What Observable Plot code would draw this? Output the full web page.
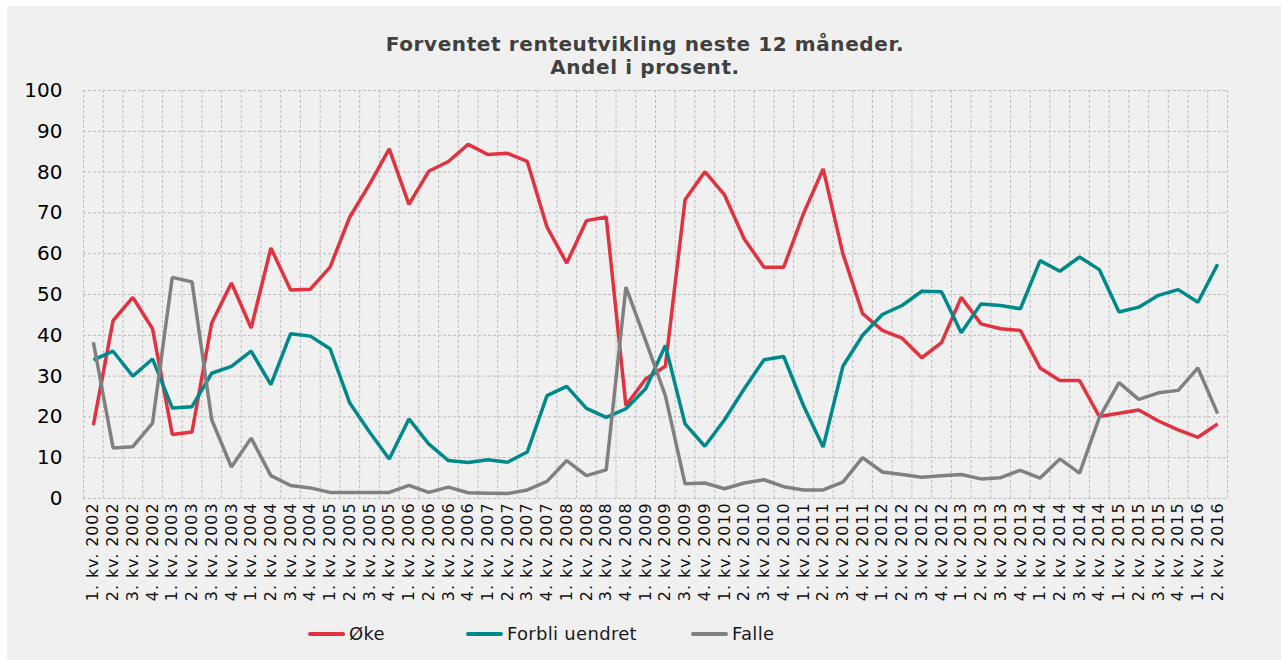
<!DOCTYPE html>
<html>
<head>
<meta charset="utf-8">
<script src="https://cdn.jsdelivr.net/npm/d3@7"></script>
<script src="https://cdn.jsdelivr.net/npm/@observablehq/plot@0.6"></script>
<style>
  html, body { margin: 0; padding: 0; background: #ffffff; }
  #wrap { position: absolute; left: 7px; top: 6px; width: 1274px; height: 654px; background: #f0f0f0; font-family: "DejaVu Sans", Verdana, sans-serif; }
  #title { position: absolute; left: 0; width: 1276px; top: 27px; text-align: center; font-weight: bold; font-size: 20px; letter-spacing: 0.6px; line-height: 23px; color: #404040; }
  #chart { position: absolute; left: 0; top: 0; }
  #chart svg g[aria-label="y-axis tick label"] { font-size: 20px; }
  #chart svg g[aria-label="x-axis tick label"] { font-size: 16px; letter-spacing: 0.9px; }
  .leg { position: absolute; top: 616px; font-size: 18px; letter-spacing: 0.3px; color: #1a1a1a; height: 24px; line-height: 24px; }
  .leg span.sw { display: inline-block; width: 37px; height: 4px; border-radius: 2px; vertical-align: middle; margin-right: 4px; position: relative; top: -1px; }
</style>
</head>
<body>
<div id="wrap">
  <div id="chart"></div>
  <div id="title">Forventet renteutvikling neste 12 måneder.<br>Andel i prosent.</div>
  <div id="legend"></div>
</div>
<script>
const labels = [
  "1. kv. 2002","2. kv. 2002","3. kv. 2002","4. kv. 2002",
  "1. kv. 2003","2. kv. 2003","3. kv. 2003","4. kv. 2003",
  "1. kv. 2004","2. kv. 2004","3. kv. 2004","4. kv. 2004",
  "1. kv. 2005","2. kv. 2005","3. kv. 2005","4. kv. 2005",
  "1. kv. 2006","2. kv. 2006","3. kv. 2006","4. kv. 2006",
  "1. kv. 2007","2. kv. 2007","3. kv. 2007","4. kv. 2007",
  "1. kv. 2008","2. kv. 2008","3. kv. 2008","4. kv. 2008",
  "1. kv. 2009","2. kv. 2009","3. kv. 2009","4. kv. 2009",
  "1. kv. 2010","2. kv. 2010","3. kv. 2010","4. kv. 2010",
  "1. kv. 2011","2. kv. 2011","3. kv. 2011","4. kv. 2011",
  "1. kv. 2012","2. kv. 2012","3. kv. 2012","4. kv. 2012",
  "1. kv. 2013","2. kv. 2013","3. kv. 2013","4. kv. 2013",
  "1. kv. 2014","2. kv. 2014","3. kv. 2014","4. kv. 2014",
  "1. kv. 2015","2. kv. 2015","3. kv. 2015","4. kv. 2015",
  "1. kv. 2016","2. kv. 2016"
];

const oke = [
  18, 43.6, 49.3, 41.6, 15.7, 16.3, 43, 52.8, 41.8, 61.4,
  51.1, 51.3, 56.7, 69, 77, 85.7, 72.1, 80.2, 82.6, 86.8,
  84.3, 84.6, 82.6, 66.5, 57.7, 68.1, 69, 22.8, 29.3, 32.4,
  73.2, 80.1, 74.4, 63.6, 56.7, 56.7, 69.8, 80.8, 60, 45.3,
  41.2, 39.3, 34.5, 38.2, 49.3, 42.8, 41.6, 41.2, 32, 28.9,
  28.9, 20.1, 20.9, 21.7, 19, 16.8, 15, 18.3
];

const uendret = [
  34, 36.1, 30, 34.2, 22.2, 22.5, 30.7, 32.4, 36.1, 27.9,
  40.4, 39.8, 36.7, 23.4, 16.3, 9.7, 19.5, 13.4, 9.3, 8.8,
  9.5, 8.9, 11.4, 25.2, 27.5, 22.1, 19.9, 22, 26.9, 37.5,
  18.3, 12.8, 19.3, 26.9, 34, 34.8, 22.8, 12.6, 32.4, 40,
  45.1, 47.3, 50.8, 50.7, 40.6, 47.7, 47.3, 46.5, 58.3, 55.7,
  59.2, 56.1, 45.7, 46.9, 49.8, 51.2, 48.1, 57.4
];

const falle = [
  38.3, 12.4, 12.7, 18.5, 54.2, 53.1, 19.3, 7.7, 14.8, 5.6,
  3.2, 2.6, 1.5, 1.5, 1.5, 1.5, 3.2, 1.5, 2.8, 1.4,
  1.3, 1.2, 2.1, 4.2, 9.3, 5.6, 7, 51.8, 38.7, 25.2,
  3.6, 3.8, 2.4, 3.8, 4.6, 2.9, 2.1, 2.1, 4, 10,
  6.5, 5.9, 5.2, 5.6, 5.9, 4.8, 5.1, 6.9, 5.0, 9.7,
  6.2, 19.8, 28.4, 24.3, 25.9, 26.5, 32, 20.8
];

const seriesNames = ["Øke", "Forbli uendret", "Falle"];
const seriesColors = ["#e3323f", "#00898a", "#808080"];
const yTicks = [0, 10, 20, 30, 40, 50, 60, 70, 80, 90, 100];

const seriesValues = [oke, uendret, falle];
const data = [];
seriesNames.forEach((name, s) => {
  seriesValues[s].forEach((v, i) => data.push({series: name, i, label: labels[i], value: v}));
});
const idx = labels.map((_, i) => i);
const edges = labels.map((_, i) => i - 0.5).concat([labels.length - 0.5]);

const chart = Plot.plot({
  width: 1274,
  height: 615,
  marginLeft: 76,
  marginRight: 54,
  marginTop: 84,
  marginBottom: 123,
  style: {background: "transparent", fontFamily: "DejaVu Sans, Verdana, sans-serif"},
  x: {domain: [-0.5, labels.length - 0.5], axis: null},
  y: {domain: [0, 100], axis: null},
  color: {domain: seriesNames, range: seriesColors},
  marks: [
    Plot.ruleY(yTicks, {stroke: "#bdbdbd", strokeWidth: 1, strokeDasharray: "3,2"}),
    Plot.ruleX(edges, {stroke: "#bdbdbd", strokeWidth: 1, strokeDasharray: "3,2"}),
    Plot.axisY({ticks: yTicks, label: null, tickSize: 0, tickPadding: 21, fontSize: 20, color: "#000", tickFormat: d => String(d)}),
    Plot.axisX({ticks: idx, label: null, tickSize: 0, tickPadding: 4, tickRotate: -90, fontSize: 16, color: "#111", tickFormat: i => labels[i]}),
    Plot.line(data, {x: "i", y: "value", z: "series", stroke: "series", strokeWidth: 3.5, strokeLinejoin: "miter", strokeLinecap: "butt"})
  ]
});
document.getElementById("chart").appendChild(chart);

const legend = document.getElementById("legend");
const legX = [301, 459, 684];
seriesNames.forEach((name, s) => {
  const d = document.createElement("div");
  d.className = "leg";
  d.style.left = legX[s] + "px";
  const sw = document.createElement("span");
  sw.className = "sw";
  sw.style.background = seriesColors[s];
  d.appendChild(sw);
  d.appendChild(document.createTextNode(name));
  legend.appendChild(d);
});
</script>
</body>
</html>
